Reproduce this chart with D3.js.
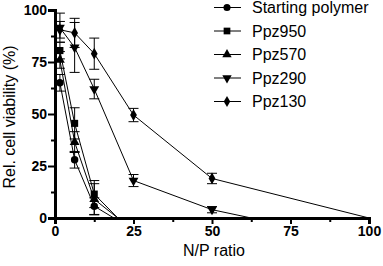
<!DOCTYPE html>
<html><head><meta charset="utf-8">
<script src="https://cdn.jsdelivr.net/npm/d3@7"></script>
<style>body{margin:0;background:#fff}svg{display:block}</style>
</head><body>
<svg id="c" width="383" height="266"></svg>
<script>
const seriesNames = ["Starting polymer","Ppz950","Ppz570","Ppz290","Ppz130"];
const seriesMarkers = ["circle","square","triangle","triangleDown","diamond"];
const npStart = [1.5625, 6.25, 12.5, 18.75];
const np950 = [1.5625, 6.25, 12.5, 20];
const np570 = [1.5625, 6.25, 12.5, 20];
const np290 = [1.5625, 6.25, 12.5, 25, 50, 62.5];
const np130 = [1.5625, 6.25, 12.5, 25, 50, 100];
const viabStart = [65, 28, 5.7, 0];
const viab950 = [80.5, 45.5, 11.5, 0];
const viab570 = [76, 36.5, 9, 0];
const viab290 = [91.5, 82, 62, 18, 4, 0];
const viab130 = [90.5, 89, 79, 49.5, 19, 0];
const errStart = [4, 4, 4, 0];
const err950 = [4, 7.5, 6.5, 0];
const err570 = [4, 5, 7.5, 0];
const err290 = [7, 12, 4.7, 2.9, 1.5, 0];
const err130 = [4, 7, 7.5, 3.2, 2.5, 0];
const xTicks = [0, 25, 50, 75, 100];
const yTicks = [0, 25, 50, 75, 100];
const xMinor = [12.5, 37.5, 62.5, 87.5];
const yMinor = [12.5, 37.5, 62.5, 87.5];

const xs = [npStart, np950, np570, np290, np130];
const ys = [viabStart, viab950, viab570, viab290, viab130];
const es = [errStart, err950, err570, err290, err130];

const FONT = "Liberation Sans, Arial, Helvetica, sans-serif";
const svg = d3.select("#c");
const x = d3.scaleLinear().domain([0,100]).range([55,369]);
const y = d3.scaleLinear().domain([0,100]).range([218,10]);

const symMap = {circle:d3.symbolCircle, square:d3.symbolSquare, triangle:d3.symbolTriangle, triangleDown:d3.symbolTriangle, diamond:d3.symbolDiamond};
const symSize = {circle:44, square:50, triangle:42, triangleDown:42, diamond:40};
function marker(g, type, cx, cy, k){
  g.append("path").attr("d", d3.symbol(symMap[type], symSize[type]*(k||1))())
   .attr("transform", `translate(${cx},${cy})` + (type==="triangleDown"?" rotate(180)":""))
   .attr("fill","#000");
}

const plot = svg.append("g");
ys.forEach((vals, si) => {
  const pts = vals.map((v,i)=>({x:xs[si][i], y:v, e:es[si][i], end: v===0}));
  plot.append("path").datum(pts)
    .attr("d", d3.line().x(d=>x(d.x)).y(d=>y(d.y)))
    .attr("fill","none").attr("stroke","#000").attr("stroke-width",1);
  pts.filter(d=>!d.end).forEach(d=>{
    const cx = x(d.x);
    plot.append("line").attr("x1",cx).attr("x2",cx).attr("y1",y(d.y+d.e)).attr("y2",y(d.y-d.e)).attr("stroke","#000").attr("stroke-width",1);
    [d.y+d.e, d.y-d.e].forEach(v=>{
      plot.append("line").attr("x1",cx-5).attr("x2",cx+5).attr("y1",y(v)).attr("y2",y(v)).attr("stroke","#000").attr("stroke-width",1);
    });
    marker(plot, seriesMarkers[si], cx, y(d.y));
  });
});

// axes
const gx = svg.append("g").attr("transform","translate(0,218)")
  .call(d3.axisBottom(x).tickValues(xTicks).tickSize(6).tickPadding(2).tickFormat(d3.format("d")));
const gxm = svg.append("g").attr("transform","translate(0,218)")
  .call(d3.axisBottom(x).tickValues(xMinor).tickSize(4).tickFormat(""));
const gy = svg.append("g").attr("transform","translate(55,0)")
  .call(d3.axisLeft(y).tickValues(yTicks).tickSize(7).tickPadding(1).tickFormat(d3.format("d")));
const gym = svg.append("g").attr("transform","translate(55,0)")
  .call(d3.axisLeft(y).tickValues(yMinor).tickSize(4).tickFormat(""));
[gx,gxm,gy,gym].forEach(g=>{
  g.select(".domain").attr("stroke","#000").attr("stroke-width",3);
  g.selectAll(".tick line").attr("stroke","#000").attr("stroke-width",2);
  g.selectAll("text").attr("font-family",FONT).attr("font-weight","bold").attr("font-size",14).attr("fill","#000");
});
gym.select(".domain").remove(); gxm.select(".domain").remove();

svg.append("text").attr("x",214).attr("y",256).attr("text-anchor","middle")
  .attr("font-family",FONT).attr("font-size",16).text("N/P ratio");
svg.append("text").attr("transform","translate(15,117) rotate(-90)").attr("text-anchor","middle")
  .attr("font-family",FONT).attr("font-size",16).text("Rel. cell viability (%)");

// legend
const leg = svg.append("g");
seriesNames.forEach((n,i)=>{
  const ly = 7.5 + i*23.5;
  leg.append("line").attr("x1",214).attr("x2",241).attr("y1",ly).attr("y2",ly).attr("stroke","#000").attr("stroke-width",1);
  marker(leg, seriesMarkers[i], 227, ly, 0.9);
  leg.append("text").attr("x",252).attr("y",ly+5.5).attr("font-family",FONT).attr("font-size",16).text(n);
});
</script>
</body></html>
